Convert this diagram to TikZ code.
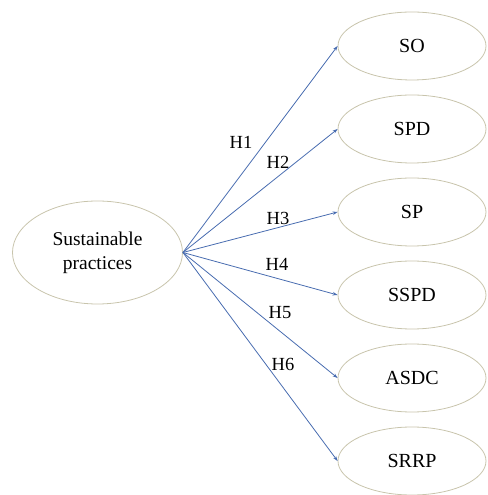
\documentclass[tikz,border=0pt]{standalone}
\usepackage{fontspec}
\setmainfont{Liberation Serif}
\usetikzlibrary{arrows.meta}
\definecolor{edgeblue}{RGB}{72,108,176}
\definecolor{ellborder}{RGB}{200,196,172}
\tikzset{
  ell/.style={ellipse, draw=ellborder, line width=0.8pt, inner sep=0pt},
  outell/.style={ell, minimum width=148pt, minimum height=68pt, font=\fontsize{20}{24}\selectfont},
  hyp/.style={-{Stealth[length=5pt,width=3.5pt]}, draw=edgeblue, line width=0.8pt},
  hlab/.style={font=\fontsize{18.5}{22}\selectfont, inner sep=0pt}
}
\usetikzlibrary{shapes.geometric}
\begin{document}
\begin{tikzpicture}[x=1pt,y=1pt]
\useasboundingbox (0,0) rectangle (487,495);
\node[ell, minimum width=170pt, minimum height=103pt, align=center, font=\fontsize{19.5}{24}\selectfont] (L) at (97.5,242.5) {Sustainable\\practices};
\node[outell] (SO) at (412,449) {SO};
\node[outell] (SPD) at (412,366) {SPD};
\node[outell] (SP) at (412,283) {SP};
\node[outell] (SSPD) at (412,200) {SSPD};
\node[outell] (ASDC) at (412,117) {ASDC};
\node[outell] (SRRP) at (412,34) {SRRP};
\foreach \n in {SO,SPD,SP,SSPD,ASDC,SRRP}{
  \draw[hyp] (L.east) -- (\n.west);
}
\node[hlab] (h1) at (241,353) {H1};
\node[hlab] (h2) at (278,333) {H2};
\node[hlab] (h3) at (278,277) {H3};
\node[hlab] (h4) at (277,231) {H4};
\node[hlab] (h5) at (280,182) {H5};
\node[hlab] (h6) at (283,131) {H6};
\end{tikzpicture}
\end{document}
